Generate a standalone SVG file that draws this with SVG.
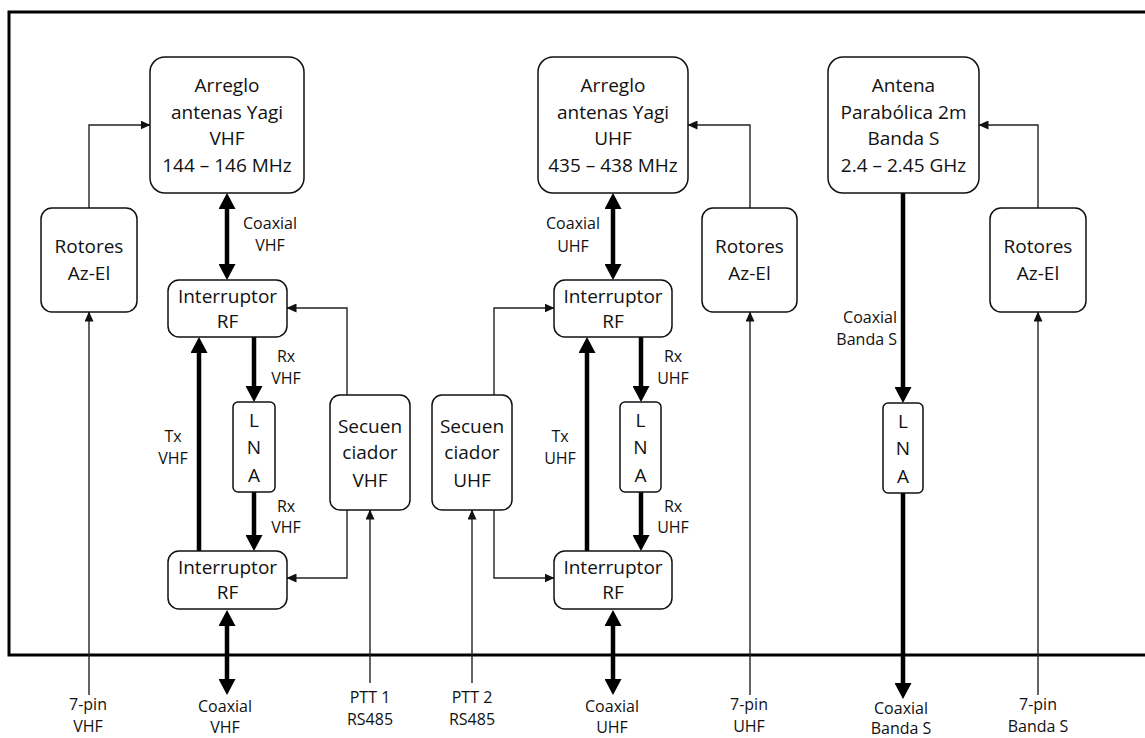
<svg xmlns="http://www.w3.org/2000/svg" width="1145" height="738" viewBox="0 0 1145 738">
<defs>
<marker id="thin" markerUnits="userSpaceOnUse" markerWidth="10" markerHeight="9" refX="9.5" refY="4.5" orient="auto"><path d="M0,0 L10,4.5 L0,9 z" fill="#111"/></marker>
<marker id="thick" markerUnits="userSpaceOnUse" markerWidth="16" markerHeight="17" refX="6" refY="8.5" orient="auto-start-reverse"><path d="M0,0 L16,8.5 L0,17 z" fill="#000"/></marker>
<style>
.box{fill:#fff;stroke:#111;stroke-width:1.5}
.t{font-family:"Open Sans","Liberation Sans",sans-serif;font-size:19px;fill:#111;text-anchor:middle}
.s{font-family:"Open Sans","Liberation Sans",sans-serif;font-size:16px;fill:#111;text-anchor:middle}
.e{text-anchor:end}
.thinl{fill:none;stroke:#222;stroke-width:1.4;marker-end:url(#thin)}
.thickl{fill:none;stroke:#000;stroke-width:4.5}
.ar1{marker-end:url(#thick)}
.ar2{marker-start:url(#thick);marker-end:url(#thick)}
</style>
</defs>
<rect width="1145" height="738" fill="#fff"/>
<path id="frame" d="M1147,12 H9 V655 H1147" fill="none" stroke="#000" stroke-width="3"/>

<g id="connectors">
<path class="thinl" d="M89,208 V125 H150"/>
<path class="thinl" d="M89,695 V312"/>
<path class="thinl" d="M347,395 V308 H287"/>
<path class="thinl" d="M347,510 V578 H287"/>
<path class="thinl" d="M370,683 V510"/>
<path class="thinl" d="M494,395 V308 H554"/>
<path class="thinl" d="M494,510 V578 H554"/>
<path class="thinl" d="M472,683 V510"/>
<path class="thinl" d="M750,208 V125 H688"/>
<path class="thinl" d="M750,695 V312"/>
<path class="thinl" d="M1038,208 V125 H979"/>
<path class="thinl" d="M1038,695 V312"/>

<path class="thickl ar2" d="M227,203 V270"/>
<path class="thickl ar1" d="M254,337 V392"/>
<path class="thickl ar1" d="M254,492 V541"/>
<path class="thickl ar1" d="M199,551 V347"/>
<path class="thickl ar2" d="M227,620 V685"/>

<path class="thickl ar2" d="M613,203 V270"/>
<path class="thickl ar1" d="M641,337 V392"/>
<path class="thickl ar1" d="M641,492 V541"/>
<path class="thickl ar1" d="M587,551 V347"/>
<path class="thickl ar2" d="M613,620 V685"/>

<path class="thickl ar1" d="M903,193 V393"/>
<path class="thickl ar1" d="M903,493 V689"/>
</g>

<g id="labels">
<text class="s" x="270" y="229">Coaxial</text><text class="s" x="270" y="251">VHF</text>
<text class="s" x="286" y="362">Rx</text><text class="s" x="286" y="384">VHF</text>
<text class="s" x="286" y="512">Rx</text><text class="s" x="286" y="533">VHF</text>
<text class="s" x="173" y="442">Tx</text><text class="s" x="173" y="464">VHF</text>
<text class="s" x="573" y="229">Coaxial</text><text class="s" x="573" y="252">UHF</text>
<text class="s" x="673" y="362">Rx</text><text class="s" x="673" y="384">UHF</text>
<text class="s" x="673" y="512">Rx</text><text class="s" x="673" y="533">UHF</text>
<text class="s" x="560" y="442">Tx</text><text class="s" x="560" y="464">UHF</text>
<text class="s e" x="897" y="323">Coaxial</text><text class="s e" x="897" y="345">Banda S</text>
<text class="s" x="88" y="710">7-pin</text><text class="s" x="88" y="732">VHF</text>
<text class="s" x="225" y="712">Coaxial</text><text class="s" x="225" y="733">VHF</text>
<text class="s" x="370" y="703">PTT 1</text><text class="s" x="370" y="725">RS485</text>
<text class="s" x="472" y="703">PTT 2</text><text class="s" x="472" y="725">RS485</text>
<text class="s" x="612" y="712">Coaxial</text><text class="s" x="612" y="733">UHF</text>
<text class="s" x="749" y="710">7-pin</text><text class="s" x="749" y="732">UHF</text>
<text class="s" x="901" y="714">Coaxial</text><text class="s" x="901" y="734">Banda S</text>
<text class="s" x="1038" y="710">7-pin</text><text class="s" x="1038" y="732">Banda S</text>
</g>

<g id="antena-vhf">
<rect class="box" x="150" y="57" width="154" height="136" rx="15"/>
<text class="t" x="227" y="92">Arreglo</text>
<text class="t" x="227" y="118.5">antenas Yagi</text>
<text class="t" x="227" y="145">VHF</text>
<text class="t" x="227" y="171.5">144 – 146 MHz</text>
</g>
<g id="rotores-vhf">
<rect class="box" x="41" y="208" width="96" height="104" rx="11"/>
<text class="t" x="89" y="253">Rotores</text>
<text class="t" x="89" y="280">Az-El</text>
</g>
<g id="interruptor-vhf-1">
<rect class="box" x="168" y="280" width="119" height="57" rx="11"/>
<text class="t" x="227.5" y="303">Interruptor</text>
<text class="t" x="227.5" y="328">RF</text>
</g>
<g id="lna-vhf">
<rect class="box" x="233" y="402" width="42" height="90" rx="5"/>
<text class="t" x="254" y="427">L</text>
<text class="t" x="254" y="454">N</text>
<text class="t" x="254" y="482">A</text>
</g>
<g id="secuenciador-vhf">
<rect class="box" x="330" y="395" width="80" height="115" rx="10"/>
<text class="t" x="370" y="433">Secuen</text>
<text class="t" x="370" y="459">ciador</text>
<text class="t" x="370" y="487">VHF</text>
</g>
<g id="interruptor-vhf-2">
<rect class="box" x="168" y="551" width="119" height="58" rx="11"/>
<text class="t" x="227.5" y="574">Interruptor</text>
<text class="t" x="227.5" y="599">RF</text>
</g>

<g id="antena-uhf">
<rect class="box" x="538" y="57" width="150" height="136" rx="15"/>
<text class="t" x="613" y="92">Arreglo</text>
<text class="t" x="613" y="118.5">antenas Yagi</text>
<text class="t" x="613" y="145">UHF</text>
<text class="t" x="613" y="171.5">435 – 438 MHz</text>
</g>
<g id="rotores-uhf">
<rect class="box" x="702" y="208" width="95" height="104" rx="11"/>
<text class="t" x="749.5" y="253">Rotores</text>
<text class="t" x="749.5" y="280">Az-El</text>
</g>
<g id="interruptor-uhf-1">
<rect class="box" x="554" y="280" width="118" height="57" rx="11"/>
<text class="t" x="613" y="303">Interruptor</text>
<text class="t" x="613" y="328">RF</text>
</g>
<g id="lna-uhf">
<rect class="box" x="620" y="402" width="41" height="90" rx="5"/>
<text class="t" x="640.5" y="427">L</text>
<text class="t" x="640.5" y="454">N</text>
<text class="t" x="640.5" y="482">A</text>
</g>
<g id="secuenciador-uhf">
<rect class="box" x="432" y="395" width="80" height="115" rx="10"/>
<text class="t" x="472" y="433">Secuen</text>
<text class="t" x="472" y="459">ciador</text>
<text class="t" x="472" y="487">UHF</text>
</g>
<g id="interruptor-uhf-2">
<rect class="box" x="554" y="551" width="118" height="58" rx="11"/>
<text class="t" x="613" y="574">Interruptor</text>
<text class="t" x="613" y="599">RF</text>
</g>

<g id="antena-s">
<rect class="box" x="828" y="57" width="151" height="136" rx="15"/>
<text class="t" x="903.5" y="92">Antena</text>
<text class="t" x="903.5" y="118.5">Parabólica 2m</text>
<text class="t" x="903.5" y="145">Banda S</text>
<text class="t" x="903.5" y="171.5">2.4 – 2.45 GHz</text>
</g>
<g id="rotores-s">
<rect class="box" x="990" y="208" width="96" height="104" rx="11"/>
<text class="t" x="1038" y="253">Rotores</text>
<text class="t" x="1038" y="280">Az-El</text>
</g>
<g id="lna-s">
<rect class="box" x="883" y="403" width="40" height="90" rx="5"/>
<text class="t" x="903" y="428">L</text>
<text class="t" x="903" y="455">N</text>
<text class="t" x="903" y="483">A</text>
</g>
</svg>
